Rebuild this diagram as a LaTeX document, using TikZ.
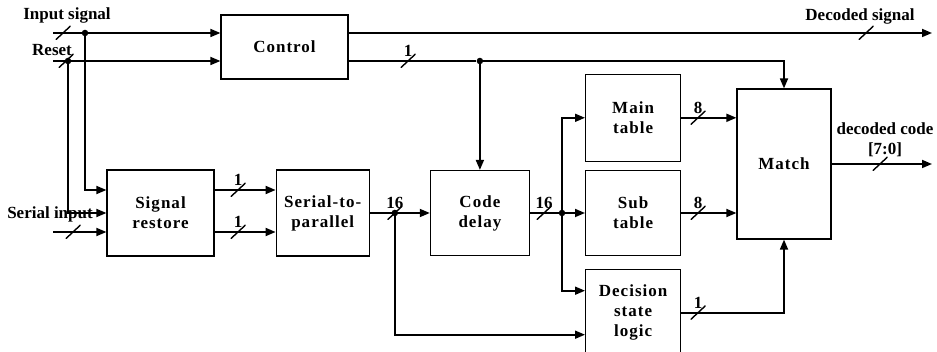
\documentclass[tikz,border=0pt]{standalone}
\usepackage{fontspec}
\setmainfont{Liberation Serif}
\newfontfamily\blockfont{Liberation Serif}[LetterSpace=6.0]
\usetikzlibrary{arrows.meta,positioning,calc}
\tikzset{
  block/.style={draw, line width=1.2pt, align=center, inner sep=2pt, font=\blockfont\fontsize{17}{20}\selectfont\bfseries},
  wire/.style={line width=1.7pt},
  arrow/.style={wire, -{Triangle[length=10pt,width=8pt]}},
  dot/.style={circle, fill, inner sep=0pt, minimum size=6.5pt},
  slash/.style={inner sep=0pt, minimum width=15pt, minimum height=14pt, path picture={\draw[line width=1.4pt] (path picture bounding box.south west) -- (path picture bounding box.north east);}},
  buslbl/.style={inner sep=0pt, font=\fontsize{17}{20}\selectfont\bfseries},
  sigtext/.style={inner sep=0pt, align=center, font=\fontsize{17}{20}\selectfont\bfseries},
}

\begin{document}
\begin{tikzpicture}[x=1pt, y=-1pt, label distance=-3pt]
  \useasboundingbox (0,0) rectangle (937,352);

  % control block
  \node[block, minimum width=127pt, minimum height=64pt] (control) at (284.5,47) {Control};

  % pipeline row
  \node[block, minimum width=107pt, minimum height=86pt] (restore) at (160.5,213) {Signal\\restore};
  \node[block, right=61pt of restore, minimum width=93pt, minimum height=86pt] (s2p) {Serial-to-\\parallel};
  \node[block, right=60pt of s2p, minimum width=99pt, minimum height=85pt] (delay) {Code\\delay};

  % tables
  \node[block, right=55pt of delay, minimum width=95pt, minimum height=85pt] (sub) {Sub\\table};
  \node[block, above=8pt of sub, minimum width=95pt, minimum height=87pt] (main) {Main\\table};
  \node[block, below=13pt of sub, minimum width=95pt, minimum height=86pt] (decision) {Decision\\state\\logic};
  \node[block, minimum width=94pt, minimum height=150pt] (match) at (784,164) {Match};

  % pins and their names
  \coordinate (insig) at (53,33);
  \coordinate (inrst) at (53,61);
  \coordinate (inser) at (53,232);
  \coordinate (decout) at (932,33);
  \coordinate (codeout) at (932,164);
  \node[sigtext] (lsig) at (67,15) {Input signal};
  \node[sigtext] (lrst) at (52,50) {Reset};
  \node[sigtext] (lser) at (50,214) {Serial input};
  \node[sigtext] (ldec) at (860,16) {Decoded signal};
  \node[sigtext] (lcode) at (885,140) {decoded code\\{[7:0]}};

  % junctions
  \node[dot] (sigdot) at (85,33) {};
  \node[dot] (rstdot) at (68,61) {};
  \node[dot] (ctldot) at (delay.north |- inrst) {};
  \node[dot] (pdot) at ([xshift=25pt]s2p.east) {};
  \node[dot] (ddot) at ([xshift=32pt]delay.east) {};

  % inputs
  \draw[arrow] (insig) -- (insig -| control.west);
  \draw[arrow] (inrst) -- (inrst -| control.west);
  \draw[arrow] (sigdot) |- ([yshift=23pt]restore.west);
  \draw[arrow] (rstdot) |- (restore.west);
  \draw[arrow] (inser) -- (inser -| restore.west);

  % control outputs
  \draw[arrow] (insig -| control.east) -- (decout);
  \draw[wire] (inrst -| control.east) -- (ctldot);
  \draw[arrow] (ctldot) -| (match.north);
  \draw[arrow] (ctldot) -- (delay.north);

  % data path
  \draw[arrow] ([yshift=23pt]restore.east) -- ([yshift=23pt]s2p.west);
  \draw[arrow] ([yshift=-19pt]restore.east) -- ([yshift=-19pt]s2p.west);
  \draw[arrow] (s2p.east) -- (delay.west);
  \draw[arrow] (pdot) |- ([yshift=-22pt]decision.west);
  \draw[wire] (delay.east) -- (ddot);
  \draw[arrow] (ddot) -- (sub.west);
  \draw[arrow] (ddot) |- (main.west);
  \draw[arrow] (ddot) |- ([yshift=22pt]decision.west);

  % into match
  \draw[arrow] (main.east) -- (main.east -| match.west);
  \draw[arrow] (sub.east) -- (sub.east -| match.west);
  \draw[arrow] (decision.east) -| (match.south);
  \draw[arrow] (match.east) -- (codeout);

  % bus widths
  \node[slash] (bsig) at (63,33) {};
  \node[slash] (brst) at (66,61) {};
  \node[slash] (bser) at (73,232) {};
  \node[slash] (bdec) at (866,33) {};
  \node[slash, label={[buslbl]above:1}] (bctl) at (408,61) {};
  \node[slash, label={[buslbl]above:1}] (bres1) at (238,190) {};
  \node[slash, label={[buslbl]above:1}] (bres2) at (238,232) {};
  \node[slash, label={[buslbl]above:16}] (bpar) at (pdot) {};
  \node[slash, label={[buslbl]above:16}] (bdel) at ([xshift=14pt]delay.east) {};
  \node[slash, label={[buslbl]above:8}] (bmain) at (698,0 |- main.east) {};
  \node[slash, label={[buslbl]above:8}] (bsub) at (698,0 |- sub.east) {};
  \node[slash, label={[buslbl]above:1}] (bdec2) at (698,0 |- decision.east) {};
  \node[slash] (bcode) at (880,164) {};
\end{tikzpicture}
\end{document}
